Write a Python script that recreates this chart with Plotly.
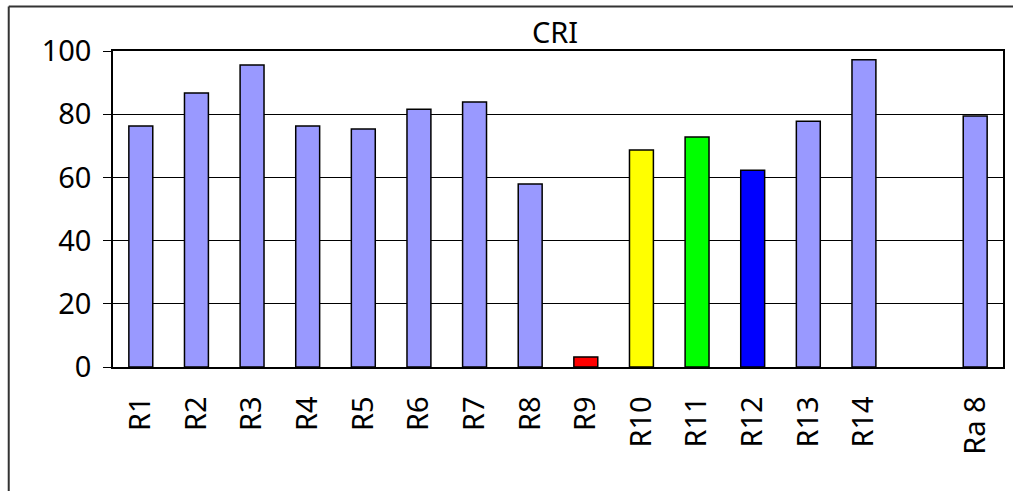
import plotly.graph_objects as go

categories = ["R1", "R2", "R3", "R4", "R5", "R6", "R7", "R8", "R9", "R10",
              "R11", "R12", "R13", "R14", " ", "Ra 8"]
values = [76.3, 86.7, 95.6, 76.3, 75.3, 81.6, 83.9, 57.9, 3.2, 68.7,
          72.8, 62.3, 77.8, 97.2, None, 79.4]
colors = ["#9999FF"] * 8 + ["#FF0000", "#FFFF00", "#00FF00", "#0000FF"] + ["#9999FF"] * 4

FONT = "Noto Sans"

fig = go.Figure(go.Bar(
    x=categories, y=values,
    marker=dict(color=colors, line=dict(color="black", width=1.5)),
    width=0.43,
))

W, H = 1013, 491
L, T = 113, 51
R = W - 1005
B = H - 367
pw, ph = W - L - R, H - T - B

fig.update_layout(
    width=W, height=H,
    margin=dict(l=L, r=R, t=T, b=B),
    paper_bgcolor="white", plot_bgcolor="white",
    font=dict(family=FONT, size=29, color="black"),
    showlegend=False,
    title=dict(text="CRI", x=555 / W, xanchor="center",
               y=1 - 33 / H, yanchor="middle", font=dict(size=29)),
    xaxis=dict(type="category", tickangle=-90, showline=True, linecolor="black",
               linewidth=1.5, mirror=True, ticks="", ticklabelstandoff=16,
               tickfont=dict(size=29), showgrid=False),
    yaxis=dict(range=[0, 100], tickvals=[0, 20, 40, 60, 80, 100],
               showline=True, linecolor="black", linewidth=1.5, mirror=True,
               ticks="outside", ticklen=8, tickcolor="black", tickwidth=1,
               showgrid=True, gridcolor="black", gridwidth=1,
               tickfont=dict(size=29), zeroline=False, ticklabelstandoff=6),
    shapes=[
        dict(type="line", xref="paper", yref="paper",
             x0=(8.5 - L) / pw, x1=(W + 10 - L) / pw,
             y0=1 + (T - 6.5) / ph, y1=1 + (T - 6.5) / ph,
             line=dict(color="#333333", width=2)),
        dict(type="line", xref="paper", yref="paper",
             x0=(8.5 - L) / pw, x1=(8.5 - L) / pw,
             y0=1 + (T - 6.5) / ph, y1=-(B + 10) / ph,
             line=dict(color="#333333", width=2)),
    ],
)

fig.write_html(
    "out.html",
    config={"displayModeBar": False},
    post_script="document.body.style.margin='0';document.body.style.overflow='hidden';",
)
